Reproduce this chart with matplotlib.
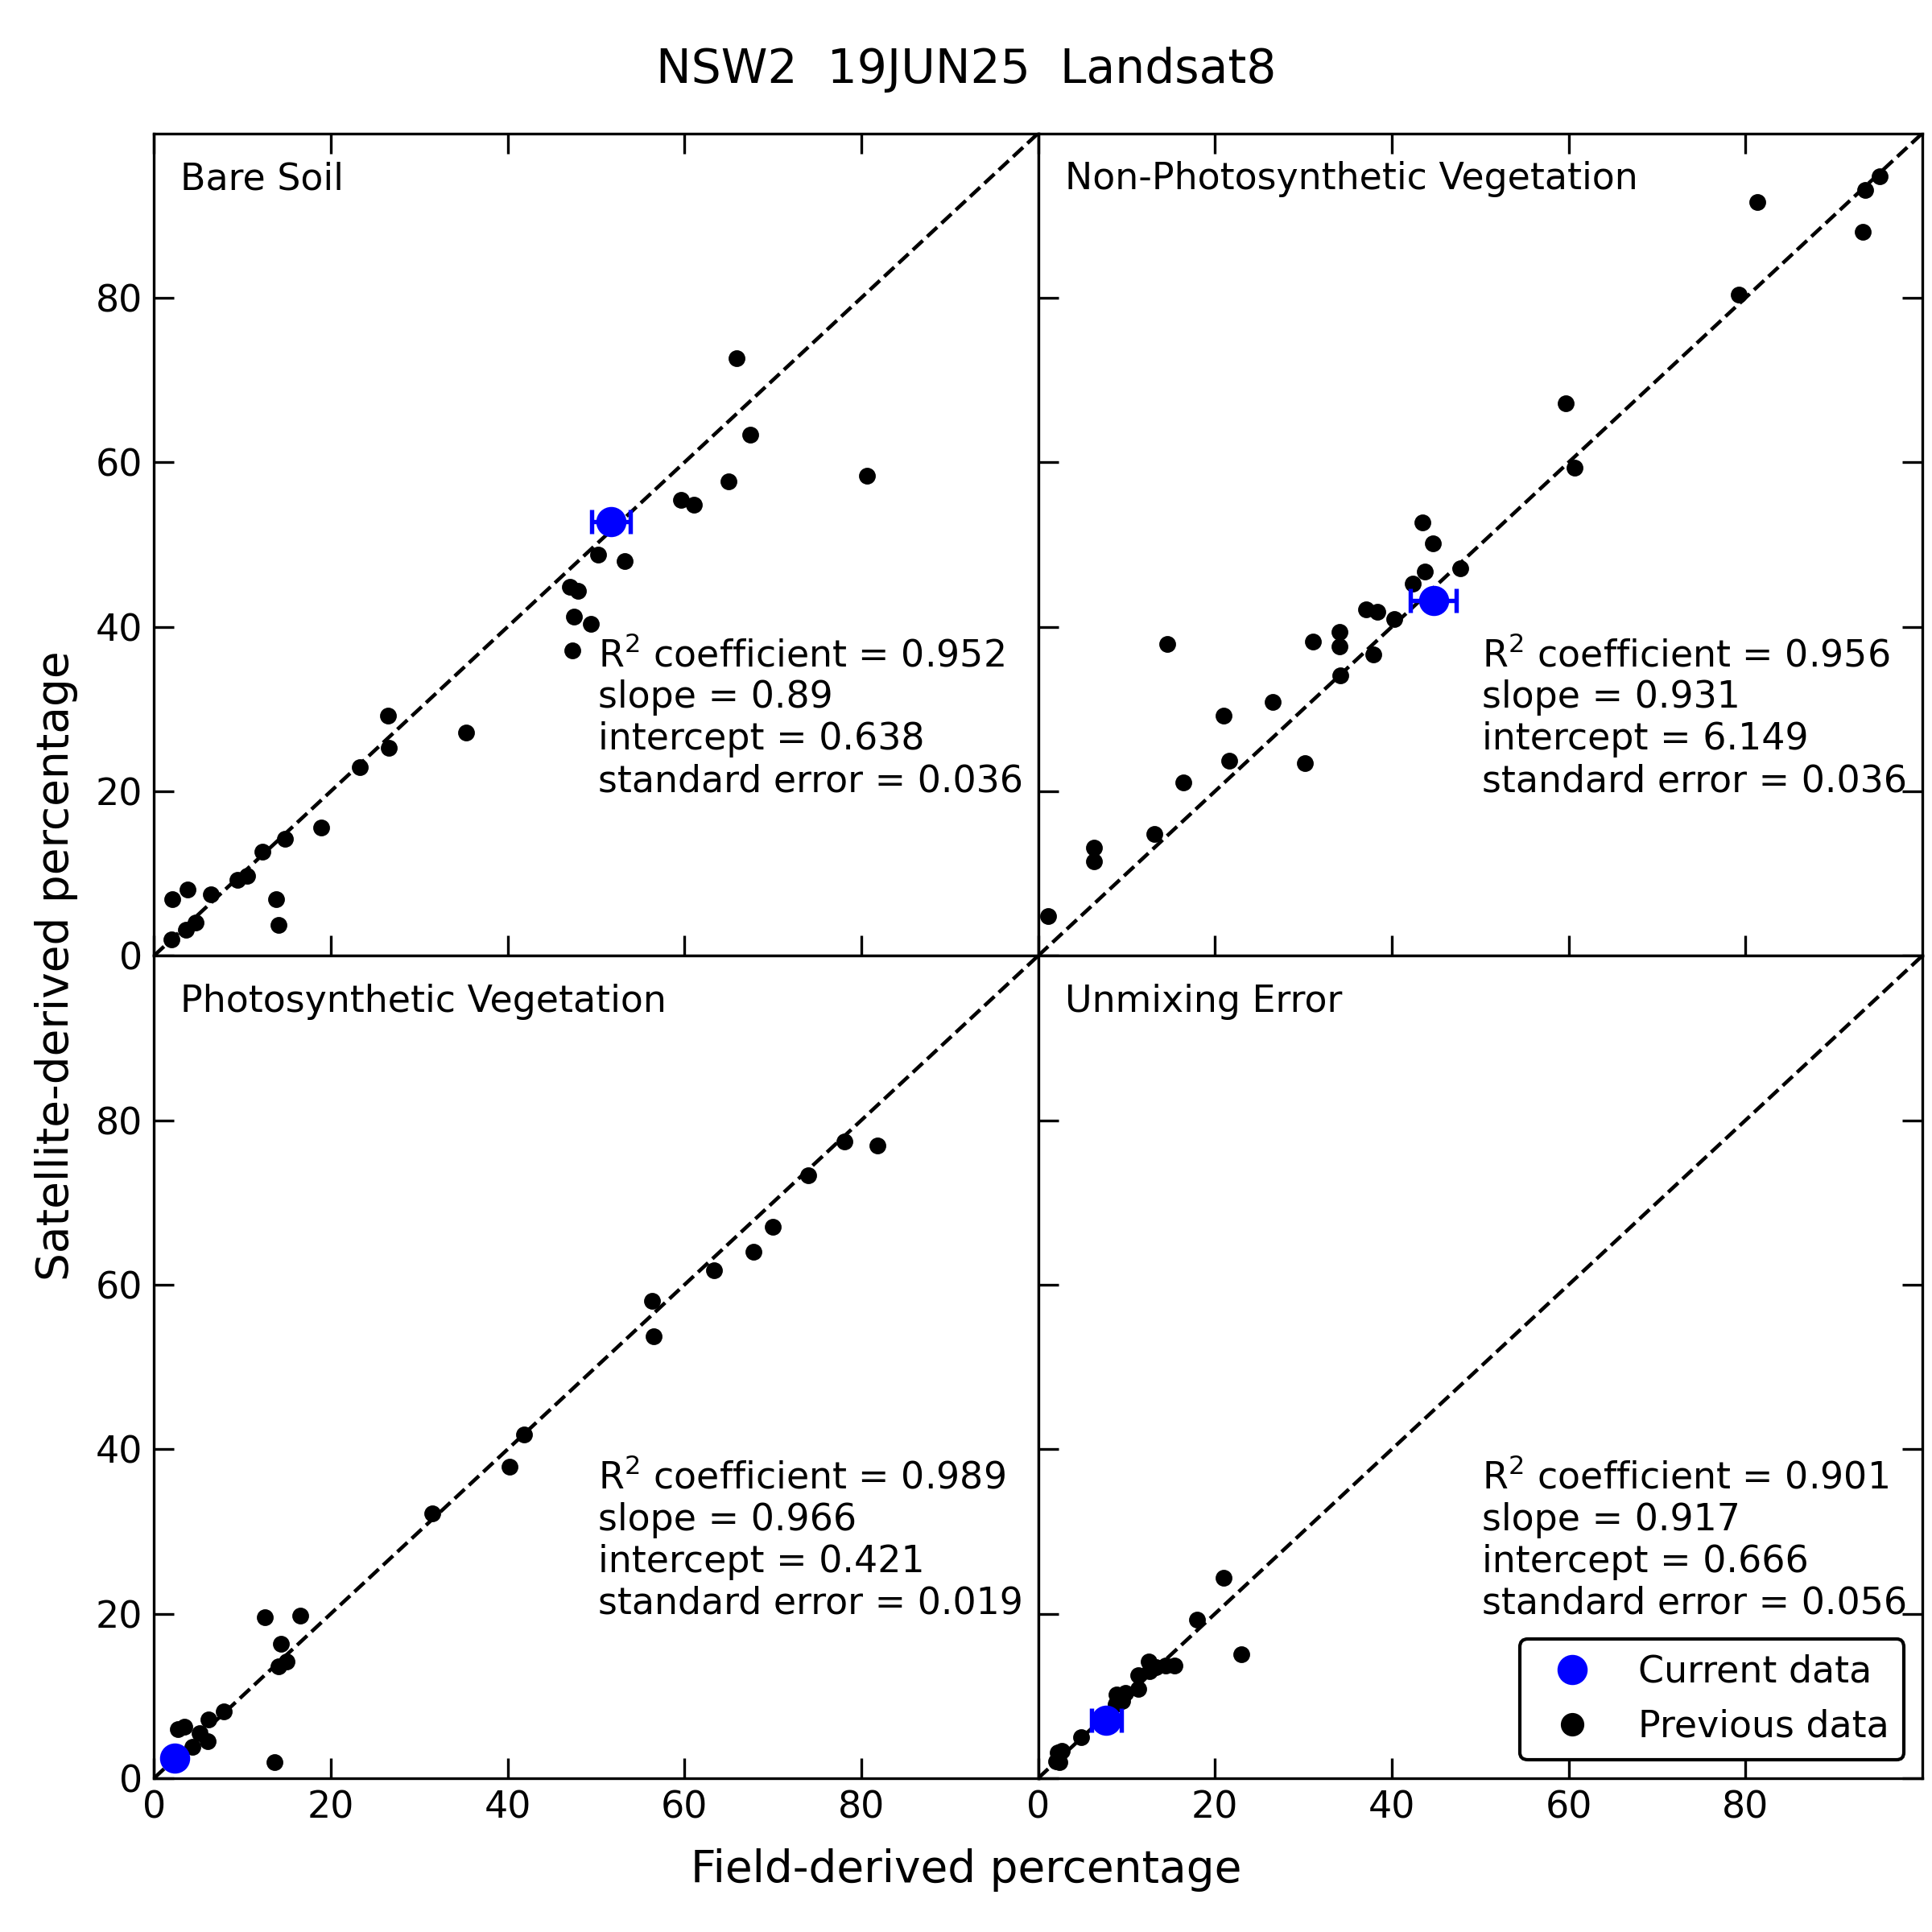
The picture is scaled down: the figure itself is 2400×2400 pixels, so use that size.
import numpy as np
import matplotlib
matplotlib.use("Agg")
import matplotlib.pyplot as plt
from matplotlib.lines import Line2D

title = "NSW2  19JUN25  Landsat8"
panel_names = ["Bare Soil", "Non-Photosynthetic Vegetation",
               "Photosynthetic Vegetation", "Unmixing Error"]

# previous data (field, satellite)
bs_field = [65.9, 67.4, 80.6, 65.0, 59.6, 61.1, 50.2, 53.2, 47.0, 48.0, 47.5, 49.4, 47.3,
            26.5, 35.3, 26.6, 23.3, 18.9, 14.8, 12.3, 10.5, 9.4, 6.4, 3.8, 2.1, 13.8,
            14.1, 4.7, 3.6, 2.0]
bs_sat = [72.7, 63.4, 58.4, 57.7, 55.4, 54.8, 48.8, 48.0, 44.9, 44.4, 41.2, 40.4, 37.1,
          29.2, 27.1, 25.3, 22.9, 15.6, 14.2, 12.7, 9.7, 9.2, 7.5, 8.1, 6.9, 6.9,
          3.7, 4.0, 3.2, 2.0]

npv_field = [95.2, 93.5, 81.3, 93.3, 79.2, 59.7, 60.7, 43.5, 44.6, 47.7, 43.7, 42.4,
             37.1, 38.4, 40.3, 34.1, 14.6, 31.1, 34.1, 37.9, 34.2, 26.5, 21.0, 21.6,
             30.2, 16.4, 13.1, 6.3, 6.3, 1.1]
npv_sat = [94.8, 93.1, 91.6, 88.0, 80.4, 67.2, 59.3, 52.7, 50.1, 47.1, 46.7, 45.2,
           42.1, 41.8, 40.9, 39.4, 37.9, 38.2, 37.6, 36.6, 34.1, 30.9, 29.2, 23.7,
           23.4, 21.1, 14.8, 13.1, 11.5, 4.8]

pv_field = [78.1, 81.8, 74.0, 70.0, 67.8, 63.3, 56.3, 56.5, 41.9, 40.2, 31.5, 12.5,
            16.5, 14.4, 15.0, 14.1, 7.9, 6.2, 3.4, 2.7, 5.2, 6.1, 4.3, 13.6]
pv_sat = [77.4, 76.9, 73.3, 67.0, 64.0, 61.8, 58.0, 53.7, 41.8, 37.9, 32.2, 19.6,
          19.8, 16.3, 14.2, 13.6, 8.1, 7.1, 6.3, 6.0, 5.5, 4.5, 3.8, 2.0]

ue_field = [21.0, 18.0, 23.0, 12.5, 15.4, 14.4, 13.3, 12.6, 11.3, 11.3, 9.9, 8.9,
            9.5, 8.8, 4.9, 2.7, 2.2, 2.0, 2.4]
ue_sat = [24.4, 19.3, 15.1, 14.2, 13.7, 13.7, 13.5, 13.0, 12.5, 10.9, 10.4, 10.2,
          9.4, 9.0, 5.0, 3.3, 3.1, 2.1, 2.0]

# current data (field, satellite, field error)
cur_field = [51.7, 44.7, 2.3, 7.7]
cur_sat = [52.8, 43.2, 2.4, 7.0]
cur_err = [2.2, 2.6, 0.5, 1.7]

r2 = [0.952, 0.956, 0.989, 0.901]
slope = [0.89, 0.931, 0.966, 0.917]
intercept = [0.638, 6.149, 0.421, 0.666]
std_err = [0.036, 0.036, 0.019, 0.056]

prev_field = [bs_field, npv_field, pv_field, ue_field]
prev_sat = [bs_sat, npv_sat, pv_sat, ue_sat]

fig, axes = plt.subplots(2, 2, figsize=(8, 8), dpi=300)
fig.subplots_adjust(left=0.0797, right=0.995, top=0.931, bottom=0.0796,
                    hspace=0, wspace=0)

for i, ax in enumerate(axes.flat):
    ax.plot([0, 100], [0, 100], "k--", lw=1.1, zorder=1)
    ax.plot(prev_field[i], prev_sat[i], "o", color="black", ms=4, zorder=2)
    ax.errorbar(cur_field[i], cur_sat[i], xerr=cur_err[i], fmt="o", color="blue",
                ms=8, capsize=3.5, elinewidth=1.3, capthick=1.3, zorder=3)
    ax.set_xlim(0, 100)
    ax.set_ylim(0, 100)
    ax.set_xticks([0, 20, 40, 60, 80])
    ax.set_yticks([0, 20, 40, 60, 80])
    ax.text(0.03, 0.966, panel_names[i], transform=ax.transAxes, fontsize=11,
            va="top", ha="left")
    stats = ("R$^2$ coefficient = " + str(r2[i]) + "\n"
             "slope = " + str(slope[i]) + "\n"
             "intercept = " + str(intercept[i]) + "\n"
             "standard error = " + "%.3f" % std_err[i])
    ax.text(0.502, 0.19, stats, transform=ax.transAxes, fontsize=11,
            va="bottom", ha="left")

axes[0, 0].tick_params(direction="in", length=6, labelsize=11, top=True, right=False,
                       bottom=True, left=True, labelbottom=False)
axes[0, 1].tick_params(direction="in", length=6, labelsize=11, top=True, right=True,
                       bottom=True, left=True, labelbottom=False, labelleft=False)
axes[1, 0].tick_params(direction="in", length=6, labelsize=11, top=False, right=False,
                       bottom=True, left=True)
axes[1, 1].tick_params(direction="in", length=6, labelsize=11, top=False, right=True,
                       bottom=True, left=True, labelleft=False)

handles = [Line2D([0], [0], marker="o", ls="none", color="blue", ms=8),
           Line2D([0], [0], marker="o", ls="none", color="black", ms=6)]
leg = axes[1, 1].legend(handles, ["Current data", "Previous data"], loc="lower right",
                        fontsize=11, framealpha=1, edgecolor="black")
leg.get_frame().set_linewidth(1.0)

fig.text(0.5, 0.964, title, fontsize=14, ha="center", va="center")
fig.text(0.5, 0.032, "Field-derived percentage", fontsize=13.2, ha="center", va="center")
fig.text(0.029, 0.5, "Satellite-derived percentage", fontsize=13.2, ha="center",
         va="center", rotation=90)

fig.savefig("out.png", dpi=300)
